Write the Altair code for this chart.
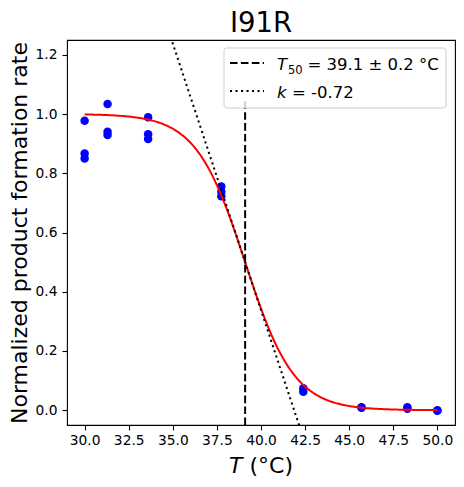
import altair as alt
import pandas as pd

# ---------------- data ----------------
TITLE = "I91R"
T_POINTS = [30.0, 30.0, 30.0,
            31.3, 31.3, 31.3,
            33.6, 33.6, 33.6,
            37.75, 37.75, 37.75,
            42.4, 42.4,
            45.7, 45.7,
            48.3, 48.3,
            50.0, 50.0]
RATE_POINTS = [0.977, 0.867, 0.850,
               1.034, 0.940, 0.929,
               0.989, 0.932, 0.916,
               0.755, 0.738, 0.722,
               0.074, 0.062,
               0.010, 0.008,
               0.010, 0.005,
               0.000, -0.002]
T50 = 39.1
T50_ERR = 0.2
K = -0.72
X_TICKS = [30.0, 32.5, 35.0, 37.5, 40.0, 42.5, 45.0, 47.5, 50.0]
Y_TICKS = [0.0, 0.2, 0.4, 0.6, 0.8, 1.0, 1.2]
X_DOMAIN = [29.0, 51.0]
Y_DOMAIN = [-0.05, 1.25]
VLINE_Y = [-0.05, 1.05]
LEGEND_T50 = f"= {T50} ± {T50_ERR} °C"
LEGEND_K = f"= {K}"

FONT = "DejaVu Sans"
W, H = 388, 385

points_df = pd.DataFrame({"T": T_POINTS, "rate": RATE_POINTS})
vline_df = pd.DataFrame({"T": [T50], "rate": [VLINE_Y[0]], "rate2": [VLINE_Y[1]]})
ends_df = pd.DataFrame({"T": X_DOMAIN})
one = pd.DataFrame({"a": [0]})

x_enc = alt.X("T:Q", scale=alt.Scale(domain=X_DOMAIN, nice=False, zero=False),
              axis=alt.Axis(values=X_TICKS, format=".1f", title=None, labelPadding=3))
y_enc = alt.Y("rate:Q", scale=alt.Scale(domain=Y_DOMAIN, nice=False, zero=False),
              axis=alt.Axis(values=Y_TICKS, format=".1f",
                            title="Normalized product formation rate",
                            titleX=-41, titleY=H / 2, titleAngle=270,
                            titleBaseline="alphabetic", titleAlign="center",
                            labelPadding=5))

points = alt.Chart(points_df).mark_circle(size=72, color="#0000ff", opacity=1).encode(x=x_enc, y=y_enc)

curve = (
    alt.Chart(alt.sequence(start=min(T_POINTS), stop=max(T_POINTS) + 0.001, step=0.05, as_="T"))
    .transform_calculate(rate=f"1/(1+exp(-({K})*(datum.T-({T50}))))")
    .mark_line(color="#ff0000", strokeWidth=2)
    .encode(x=x_enc, y=y_enc)
)

tangent = (
    alt.Chart(ends_df)
    .transform_calculate(rate=f"0.5+({K})/4*(datum.T-({T50}))")
    .mark_line(color="black", strokeWidth=2, strokeDash=[2.1, 3.4], clip=True)
    .encode(x=x_enc, y=y_enc)
)

vline = alt.Chart(vline_df).mark_rule(color="black", strokeWidth=2, strokeDash=[7.6, 3.3]).encode(
    x=x_enc, y=y_enc, y2="rate2:Q")

# ---------------- manual legend (upper right) ----------------
box = alt.Chart(one).mark_rect(fill="white", fillOpacity=0.8, stroke="#cccccc", strokeWidth=1,
                               cornerRadius=3).encode(
    x=alt.value(157), x2=alt.value(379), y=alt.value(8), y2=alt.value(68))
dash_sample = alt.Chart(one).mark_rule(color="black", strokeWidth=2, strokeDash=[7.6, 3.3]).encode(
    x=alt.value(163), x2=alt.value(197), y=alt.value(23))
dot_sample = alt.Chart(one).mark_rule(color="black", strokeWidth=2, strokeDash=[2.1, 3.4]).encode(
    x=alt.value(163), x2=alt.value(197), y=alt.value(51))

def txt(s, x, y, size, style="normal", align="left"):
    return alt.Chart(one).mark_text(text=s, font=FONT, fontSize=size, fontStyle=style,
                                    align=align, baseline="alphabetic", color="black").encode(
        x=alt.value(x), y=alt.value(y))

leg1a = txt("T", 210, 30, 16.5, "italic")
leg1b = txt("50", 221, 33.5, 11.5)
leg1c = txt(LEGEND_T50, 240.5, 30, 16.5)
leg2a = txt("k", 210, 58, 16.5, "italic")
leg2b = txt(LEGEND_K, 225, 58, 16.5)

# x-axis title with italic T
xt1 = txt("T", 162, 433, 22, "italic")
xt2 = txt("(°C)", 182.5, 433, 22)

# chart title
title = txt(TITLE, W / 2, -8, 27.5, "normal", "center")

chart = (
    alt.layer(points, curve, tangent, vline, box, dash_sample, dot_sample,
              leg1a, leg1b, leg1c, leg2a, leg2b, xt1, xt2, title)
    .properties(
        width=W, height=H,
        autosize=alt.AutoSizeParams(type="none"),
        padding={"left": 59, "top": 32, "right": 1, "bottom": 54},
    )
    .configure_view(stroke="black", strokeWidth=1.1)
    .configure_axis(labelFont=FONT, labelFontSize=13.8, labelColor="black",
                    tickColor="black", tickSize=5, tickWidth=1.1, domain=False, grid=False,
                    titleFont=FONT, titleFontSize=22, titleColor="black", titleFontWeight="normal")
)

chart.save("out.html", embed_options={"renderer": "svg", "actions": False})
